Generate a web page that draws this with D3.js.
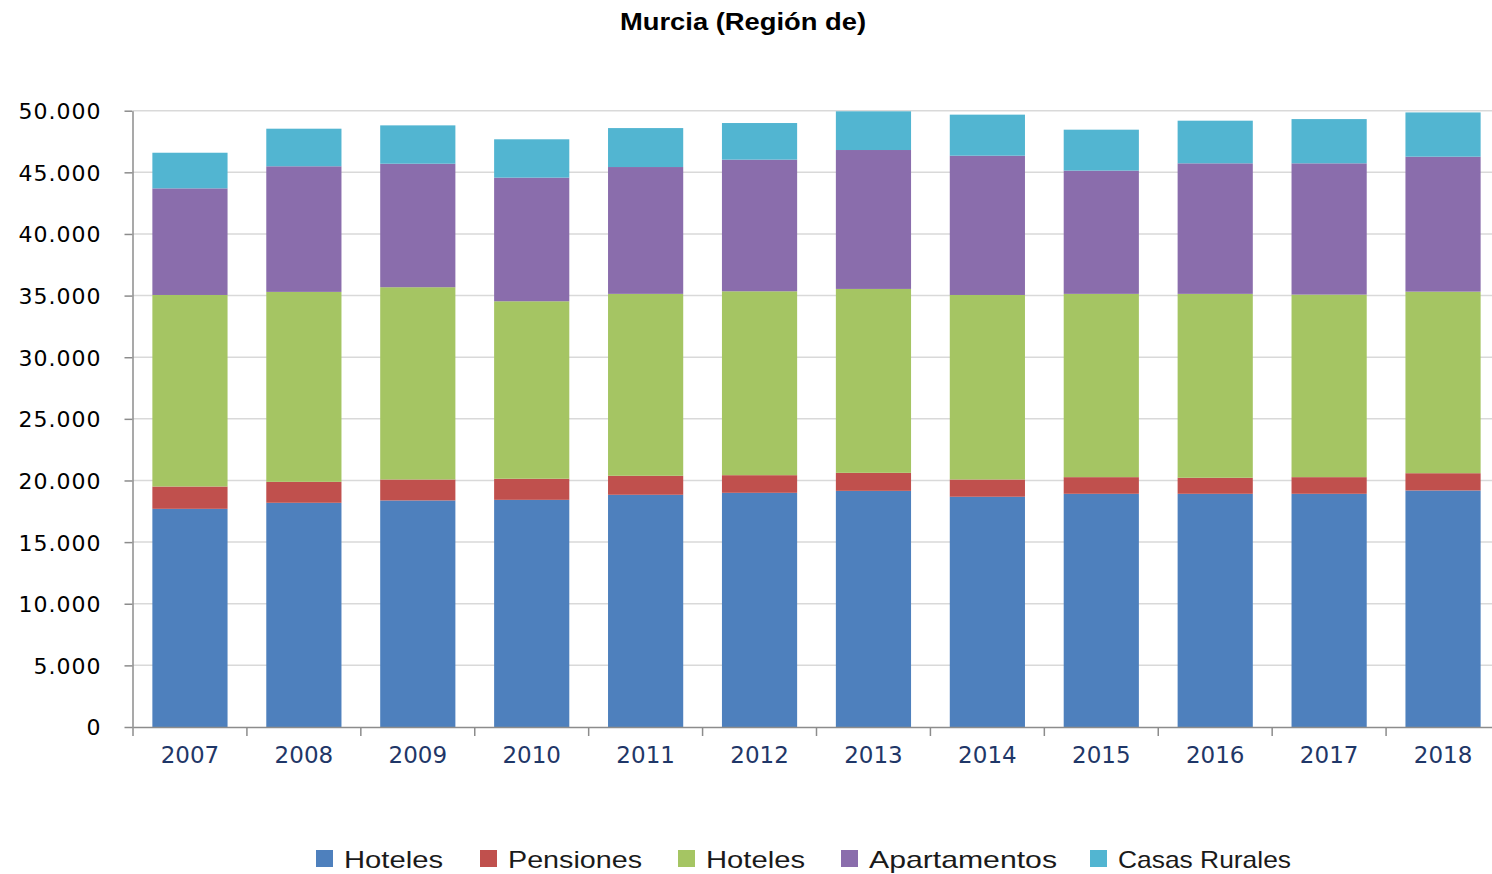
<!DOCTYPE html>
<html>
<head>
<meta charset="utf-8">
<script src="https://cdn.jsdelivr.net/npm/d3@7"></script>
<style>
  html, body { margin: 0; padding: 0; background: #fff; }
  svg { display: block; }
</style>
</head>
<body>
<svg id="chart" width="1492" height="874"></svg>
<script>
// years on the x axis
var years = ["2007", "2008", "2009", "2010", "2011", "2012", "2013", "2014", "2015", "2016", "2017", "2018"];

// series, bottom to top
var hoteles = [17700, 18190, 18380, 18430, 18840, 19000, 19160, 18680, 18920, 18920, 18920, 19190];
var pensiones = [1810, 1700, 1700, 1710, 1540, 1430, 1460, 1400, 1350, 1300, 1350, 1400];
var hotelesB = [15540, 15410, 15600, 14400, 14760, 14920, 14920, 14970, 14870, 14920, 14810, 14730];
var apartamentos = [8650, 10190, 10020, 10030, 10290, 10680, 11270, 11300, 10000, 10590, 10650, 10950];
var casasRurales = [2890, 3050, 3110, 3110, 3160, 2970, 3140, 3330, 3320, 3460, 3590, 3590];

var seriesKeys = ["hoteles", "pensiones", "hotelesB", "apartamentos", "casasRurales"];
var seriesLabels = ["Hoteles", "Pensiones", "Hoteles", "Apartamentos", "Casas Rurales"];
var seriesColors = ["#4e80bd", "#c0504d", "#a5c563", "#8a6dac", "#52b5d1"];

var yTicks = [0, 5000, 10000, 15000, 20000, 25000, 30000, 35000, 40000, 45000, 50000];

var table = years.map(function (y, i) {
  return {
    year: y,
    hoteles: hoteles[i],
    pensiones: pensiones[i],
    hotelesB: hotelesB[i],
    apartamentos: apartamentos[i],
    casasRurales: casasRurales[i]
  };
});

var svg = d3.select("#chart");

var x = d3.scaleBand()
  .domain(years)
  .range([133, 1500])
  .paddingInner(0.34)
  .paddingOuter(0.17);

var y = d3.scaleLinear()
  .domain([0, 50000])
  .range([727, 110.7]);

var color = d3.scaleOrdinal().domain(seriesKeys).range(seriesColors);

var fmt = function (d) { return d3.format(",")(d).replace(/,/g, "."); };

// title
svg.append("text")
  .attr("x", 743)
  .attr("y", 30)
  .attr("text-anchor", "middle")
  .attr("textLength", 246)
  .attr("lengthAdjust", "spacingAndGlyphs")
  .style("font-family", "Liberation Sans, Arial, sans-serif")
  .style("font-weight", "bold")
  .style("font-size", "23px")
  .style("fill", "#000")
  .text("Murcia (Región de)");

// gridlines
svg.append("g")
  .selectAll("line")
  .data(yTicks.slice(1))
  .enter().append("line")
  .attr("x1", 133)
  .attr("x2", 1500)
  .attr("y1", d => y(d))
  .attr("y2", d => y(d))
  .attr("stroke", "#d9d9d9")
  .attr("stroke-width", 1.5);

// stacked bars
var stack = d3.stack().keys(seriesKeys);
var layers = stack(table);

svg.append("g")
  .selectAll("g")
  .data(layers)
  .enter().append("g")
  .attr("fill", d => color(d.key))
  .selectAll("rect")
  .data(d => d)
  .enter().append("rect")
  .attr("x", d => x(d.data.year))
  .attr("width", x.bandwidth())
  .attr("y", d => y(d[1]))
  .attr("height", d => y(d[0]) - y(d[1]));

// y axis
var yAxis = svg.append("g")
  .attr("transform", "translate(132.5,0)")
  .call(d3.axisLeft(y).tickValues(yTicks).tickFormat(fmt).tickSize(8).tickSizeOuter(0));
yAxis.select(".domain").attr("stroke", "#8c8c8c").attr("stroke-width", 1.5);
yAxis.selectAll(".tick line").attr("stroke", "#8c8c8c").attr("stroke-width", 1.5);
yAxis.selectAll(".tick text")
  .attr("x", -31)
  .attr("dy", "0.36em")
  .style("font-family", "DejaVu Sans, Verdana, sans-serif")
  .style("font-size", "22px")
  .style("letter-spacing", "1px")
  .style("fill", "#000");

// x axis
var xAxis = svg.append("g")
  .attr("transform", "translate(0,727)")
  .call(d3.axisBottom(x).tickSize(0).tickSizeOuter(0));
xAxis.select(".domain").attr("stroke", "#8c8c8c").attr("stroke-width", 1.5);
xAxis.selectAll(".tick text")
  .attr("y", 36)
  .attr("dy", 0)
  .style("font-family", "DejaVu Sans, Verdana, sans-serif")
  .style("font-size", "23px")
  .style("fill", "#1f3768");

// tick marks at band boundaries
xAxis.append("g")
  .selectAll("line")
  .data(years.concat(["end"]))
  .enter().append("line")
  .attr("x1", (d, i) => x.range()[0] + i * x.step())
  .attr("x2", (d, i) => x.range()[0] + i * x.step())
  .attr("y1", 0)
  .attr("y2", 9)
  .attr("stroke", "#8c8c8c")
  .attr("stroke-width", 1.5);

// legend
var legendX = [316, 480, 678, 841, 1090];
var legendW = [99, 134, 99, 188, 173];

var legend = svg.append("g")
  .selectAll("g")
  .data(seriesKeys)
  .enter().append("g")
  .attr("transform", (d, i) => `translate(${legendX[i]},850)`);

legend.append("rect")
  .attr("width", 17)
  .attr("height", 17)
  .attr("fill", d => color(d));

legend.append("text")
  .attr("x", 28)
  .attr("y", 18)
  .attr("textLength", (d, i) => legendW[i])
  .attr("lengthAdjust", "spacingAndGlyphs")
  .style("font-family", "Liberation Sans, Arial, sans-serif")
  .style("font-size", "24px")
  .style("fill", "#1a1a1a")
  .text((d, i) => seriesLabels[i]);
</script>
</body>
</html>
